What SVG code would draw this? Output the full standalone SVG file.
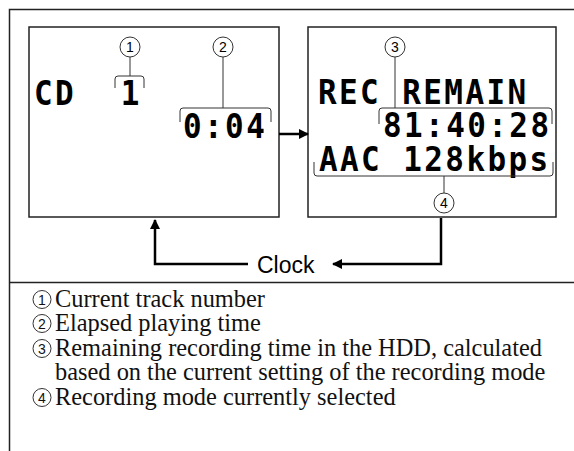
<svg xmlns="http://www.w3.org/2000/svg" width="574" height="451" viewBox="0 0 574 451">
<defs>
<style>
.frame{fill:none;stroke:#222;stroke-width:1.5}
.box{fill:#fff;stroke:#222;stroke-width:1.5}
.lcd{font-family:"DejaVu Sans Mono",monospace;font-weight:bold;font-size:31px;letter-spacing:2.4px;fill:#000}
.brk{fill:none;stroke:#333;stroke-width:1}
.call{fill:#fff;stroke:#333;stroke-width:1}
.num{font-family:"Liberation Sans",Arial,sans-serif;font-size:14px;fill:#000;text-anchor:middle}
.lnum{font-family:"Liberation Sans",Arial,sans-serif;font-size:14px;fill:#111;text-anchor:middle}
.flow{fill:none;stroke:#000;stroke-width:2.5}
.lbl{font-family:"Liberation Sans",Arial,sans-serif;font-size:23px;fill:#000}
.list{font-family:"Liberation Serif","Times New Roman",serif;font-size:24.4px;fill:#111}
</style>
<marker id="ah" markerWidth="10" markerHeight="10" refX="9" refY="5" orient="auto" markerUnits="userSpaceOnUse">
<path d="M0,0 L10,5 L0,10 Z" fill="#000"/>
</marker>
</defs>
<rect width="574" height="451" fill="#fff"/>
<g id="frame">
<path class="frame" d="M9.5,451 V9.5 H574"/>
<path class="frame" d="M9.5,282.5 H574"/>
</g>
<g id="display-cd">
<rect class="box" x="29" y="27" width="250" height="190"/>
<g transform="translate(34,105) scale(1,1.1)"><text class="lcd">CD</text></g>
<g transform="translate(130,105) scale(1,1.1)"><text class="lcd" text-anchor="middle" style="letter-spacing:0">1</text></g>
<g transform="translate(183,138) scale(1,1.1)"><text class="lcd">0:04</text></g>
<path class="brk" d="M115,88 V79 Q115,76 118,76 H141 Q144,76 144,79 V88"/>
<path class="brk" d="M130,57 V76"/>
<circle class="call" cx="130" cy="47" r="10"/>
<text class="num" x="130" y="52">1</text>
<path class="brk" d="M180,122 V111 Q180,108 183,108 H268 Q271,108 271,111 V122"/>
<path class="brk" d="M223,57 V108"/>
<circle class="call" cx="223" cy="47" r="10"/>
<text class="num" x="223" y="52">2</text>
</g>
<g id="display-rec">
<rect class="box" x="308" y="27" width="248" height="190"/>
<g transform="translate(318,104) scale(1,1.1)"><text class="lcd">REC REMAIN</text></g>
<g transform="translate(383,137) scale(1,1.1)"><text class="lcd">81:40:28</text></g>
<g transform="translate(319,171) scale(1,1.1)"><text class="lcd">AAC 128kbps</text></g>
<path class="brk" d="M379,124 V111 Q379,108 382,108 H549 Q552,108 552,111 V124"/>
<path class="brk" d="M395,57 V108"/>
<circle class="call" cx="395" cy="47" r="10"/>
<text class="num" x="395" y="52">3</text>
<path class="brk" d="M314,162 V173 Q314,176 317,176 H550 Q553,176 553,173 V162"/>
<path class="brk" d="M444,176 V193"/>
<circle class="call" cx="444" cy="203" r="10"/>
<text class="num" x="444" y="208">4</text>
</g>
<g id="clock">
<text class="lbl" x="257" y="273">Clock</text>
</g>
<g id="connectors">
<path class="flow" d="M279,134 H308" marker-end="url(#ah)" stroke-width="2"/>
<path class="flow" d="M441,218 V264 H333" marker-end="url(#ah)"/>
<path class="flow" d="M248,264 H155 V220" marker-end="url(#ah)"/>
</g>
<g id="legend">
<circle class="call" cx="42" cy="299.5" r="9"/><text class="lnum" x="42" y="304.5">1</text>
<text class="list" x="55" y="307">Current track number</text>
<circle class="call" cx="42" cy="323.5" r="9"/><text class="lnum" x="42" y="328.5">2</text>
<text class="list" x="55" y="331">Elapsed playing time</text>
<circle class="call" cx="42" cy="348.5" r="9"/><text class="lnum" x="42" y="353.5">3</text>
<text class="list" x="55" y="356">Remaining recording time in the HDD, calculated</text>
<text class="list" x="55" y="380">based on the current setting of the recording mode</text>
<circle class="call" cx="42" cy="397.5" r="9"/><text class="lnum" x="42" y="402.5">4</text>
<text class="list" x="55" y="405">Recording mode currently selected</text>
</g>
</svg>
